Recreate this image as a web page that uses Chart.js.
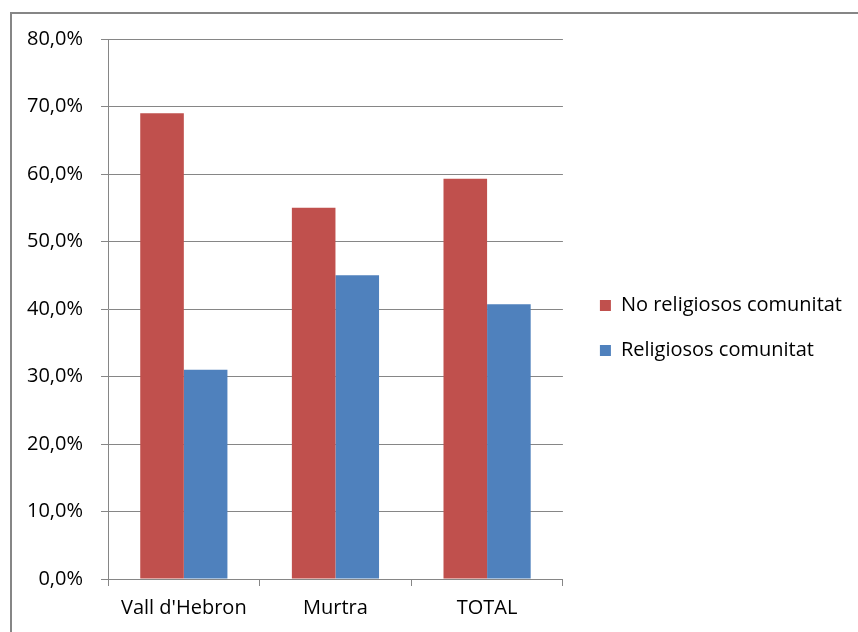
<!DOCTYPE html>
<html>
<head>
<meta charset="utf-8">
<script src="https://cdn.jsdelivr.net/npm/chart.js@4"></script>
<style>
  body { margin: 0; background: #ffffff; }
  #frame {
    position: absolute; left: 10px; top: 12px; width: 900px; height: 700px;
    border-top: 2px solid #868686; border-left: 2px solid #868686;
  }
  #chart { position: absolute; left: 0; top: 0; }
</style>
</head>
<body>
<div id="frame"></div>
<canvas id="chart" width="858" height="632"></canvas>
<script>
// Categories and series
const categories = ["Vall d'Hebron", "Murtra", "TOTAL"];
const noReligiosos = [69.0, 55.0, 59.3];
const religiosos = [31.0, 45.0, 40.7];
const seriesNames = ["No religiosos comunitat", "Religiosos comunitat"];

// Y axis ticks: 0 to 80, step 10
const yMin = 0;
const yMax = 80;
const yStep = 10;

const gridColor = "#868686";
const fontFamily = "'Open Sans', sans-serif";

const ctx = document.getElementById("chart").getContext("2d");

new Chart(ctx, {
    type: "bar",
    data: {
        labels: categories,
        datasets: [
            {
                label: seriesNames[0],
                data: noReligiosos,
                backgroundColor: "#C0504D",
                categoryPercentage: 0.575,
                barPercentage: 1.0
            },
            {
                label: seriesNames[1],
                data: religiosos,
                backgroundColor: "#4F81BD",
                categoryPercentage: 0.575,
                barPercentage: 1.0
            }
        ]
    },
    options: {
        responsive: false,
        animation: false,
        devicePixelRatio: 1,
        layout: {
            padding: { left: 9, right: 6, top: 26, bottom: 2 }
        },
        plugins: {
            tooltip: { enabled: false },
            legend: {
                position: "right",
                maxWidth: 320,
                labels: {
                    boxWidth: 11,
                    boxHeight: 11,
                    padding: 25,
                    color: "#000000",
                    font: { family: fontFamily, size: 20 }
                }
            }
        },
        scales: {
            x: {
                grid: {
                    display: true,
                    drawOnChartArea: false,
                    drawTicks: true,
                    tickLength: 7,
                    color: gridColor
                },
                border: { display: true, color: gridColor, width: 1 },
                ticks: {
                    color: "#000000",
                    padding: 10,
                    font: { family: fontFamily, size: 20 }
                }
            },
            y: {
                min: yMin,
                max: yMax,
                grid: {
                    color: gridColor,
                    tickLength: 7
                },
                border: { display: true, color: gridColor, width: 1 },
                ticks: {
                    stepSize: yStep,
                    color: "#000000",
                    padding: 18,
                    font: { family: fontFamily, size: 20 },
                    callback: function (value) {
                        return value.toFixed(1).replace(".", ",") + "%";
                    }
                }
            },
            // empty strip between the plot and the legend
            gap: {
                position: "right",
                grid: { display: false },
                border: { display: false },
                ticks: { display: false },
                afterFit: function (scale) { scale.width = 12; }
            },
            // empty strip above the plot (keeps the legend centred higher)
            gapTop: {
                type: "linear",
                position: "top",
                grid: { display: false },
                border: { display: false },
                ticks: { display: false },
                afterFit: function (scale) { scale.height = 13; }
            }
        }
    }
});
</script>
</body>
</html>
